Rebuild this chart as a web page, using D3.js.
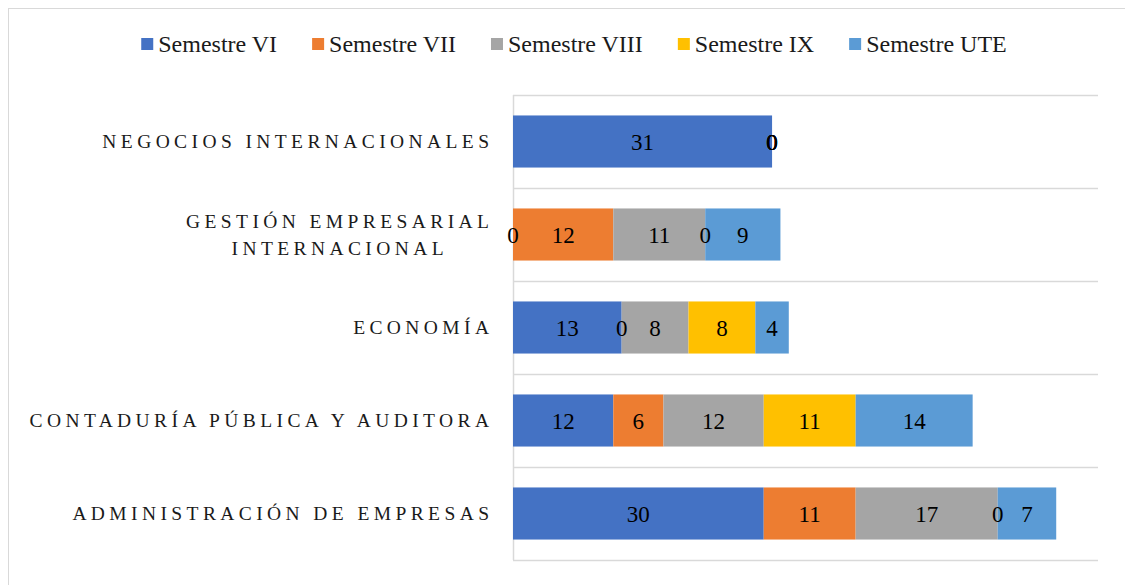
<!DOCTYPE html>
<html>
<head>
<meta charset="utf-8">
<script src="https://cdn.jsdelivr.net/npm/d3@7"></script>
<style>
  html, body { margin: 0; padding: 0; background: #fff; }
  svg { display: block; }
</style>
</head>
<body>
<div id="chart"></div>
<script>
// ── Data ─────────────────────────────────────────────────────────────────────
const categories = [
  ['NEGOCIOS INTERNACIONALES'],
  ['GESTIÓN EMPRESARIAL', 'INTERNACIONAL'],
  ['ECONOMÍA'],
  ['CONTADURÍA PÚBLICA Y AUDITORA'],
  ['ADMINISTRACIÓN DE EMPRESAS']
];
const seriesNames = ['Semestre VI', 'Semestre VII', 'Semestre VIII', 'Semestre IX', 'Semestre UTE'];
const semVI   = [31, 0, 13, 12, 30];
const semVII  = [0, 12, 0, 6, 11];
const semVIII = [0, 11, 8, 12, 17];
const semIX   = [0, 0, 8, 11, 0];
const semUTE  = [0, 9, 4, 14, 7];
const colors  = ['#4472C4', '#ED7D31', '#A5A5A5', '#FFC000', '#5B9BD5'];
const xMax = 70;

const W = 1125, H = 585;
const margin = { top: 95, right: 27, bottom: 25, left: 513 };
const width  = W - margin.left - margin.right;
const height = H - margin.top - margin.bottom;
const serif = 'Liberation Serif';

const svg = d3.select('#chart').append('svg')
  .attr('width', W).attr('height', H)
  .style('font-family', serif);

// outer chart border
svg.append('rect')
  .attr('x', 8.5).attr('y', 8.5)
  .attr('width', W).attr('height', H)
  .attr('fill', '#fff')
  .attr('stroke', '#d9d9d9').attr('stroke-width', 1);

const g = svg.append('g')
  .attr('transform', `translate(${margin.left},${margin.top})`);

// ── Scales ───────────────────────────────────────────────────────────────────
const idx = d3.range(categories.length);
const xScale = d3.scaleLinear().domain([0, xMax]).range([0, width]);
const yScale = d3.scaleBand().domain(idx).range([0, height])
  .paddingInner(0.44).paddingOuter(0.22);

// ── Gridlines at category boundaries ────────────────────────────────────────
d3.range(categories.length + 1).forEach(i => {
  const y = Math.round(i * yScale.step()) + 0.5;
  g.append('line')
    .attr('x1', 0).attr('x2', width)
    .attr('y1', y).attr('y2', y)
    .attr('stroke', '#d9d9d9').attr('stroke-width', 1.5);
});
g.append('line')
  .attr('x1', 0.5).attr('x2', 0.5)
  .attr('y1', 0).attr('y2', height)
  .attr('stroke', '#d9d9d9').attr('stroke-width', 1.5);

// ── Stacked bars ─────────────────────────────────────────────────────────────
const rows = idx.map(i => ({
  i, s0: semVI[i], s1: semVII[i], s2: semVIII[i], s3: semIX[i], s4: semUTE[i]
}));
const keys = ['s0', 's1', 's2', 's3', 's4'];
const stacked = d3.stack().keys(keys)(rows);

stacked.forEach((layer, k) => {
  g.selectAll(null)
    .data(layer)
    .join('rect')
    .attr('x', d => xScale(d[0]))
    .attr('y', d => yScale(d.data.i))
    .attr('width', d => xScale(d[1]) - xScale(d[0]))
    .attr('height', yScale.bandwidth())
    .attr('fill', colors[k]);
});

// data labels
stacked.forEach(layer => {
  g.selectAll(null)
    .data(layer)
    .join('text')
    .attr('x', d => (xScale(d[0]) + xScale(d[1])) / 2)
    .attr('y', d => yScale(d.data.i) + yScale.bandwidth() / 2)
    .attr('dy', '0.35em')
    .attr('text-anchor', 'middle')
    .style('font-size', '23px')
    .attr('fill', '#000')
    .text(d => d[1] - d[0]);
});

// ── Category labels ─────────────────────────────────────────────────────────
const ls = 4.4;
const labelRight = -24;
categories.forEach((lines, i) => {
  const cy = yScale(i) + yScale.bandwidth() / 2;
  const lh = 27;
  const t = g.append('text')
    .style('font-size', '19.5px')
    .attr('letter-spacing', `${ls}px`)
    .attr('fill', '#1a1a1a');
  const spans = lines.map((ln, j) => t.append('tspan')
    .attr('y', cy + (j - (lines.length - 1) / 2) * lh)
    .attr('dy', '0.35em')
    .text(ln));
  const maxW = d3.max(spans, s => s.node().getComputedTextLength()) - ls;
  const cx = labelRight - maxW / 2;
  spans.forEach(s => s.attr('x', cx + ls / 2).attr('text-anchor', 'middle'));
});

// ── Legend ───────────────────────────────────────────────────────────────────
const legend = svg.append('g');
let lx = 0;
seriesNames.forEach((name, k) => {
  const item = legend.append('g').attr('transform', `translate(${lx},0)`);
  item.append('rect')
    .attr('x', 0).attr('y', -6)
    .attr('width', 12).attr('height', 12)
    .attr('fill', colors[k]);
  const tx = item.append('text')
    .attr('x', 17).attr('y', 0).attr('dy', '0.35em')
    .style('font-size', '24px')
    .attr('fill', '#1a1a1a')
    .text(name);
  lx += 17 + tx.node().getComputedTextLength() + 35;
});
const legendW = lx - 35;
legend.attr('transform', `translate(${574 - legendW / 2},44)`);
</script>
</body>
</html>
